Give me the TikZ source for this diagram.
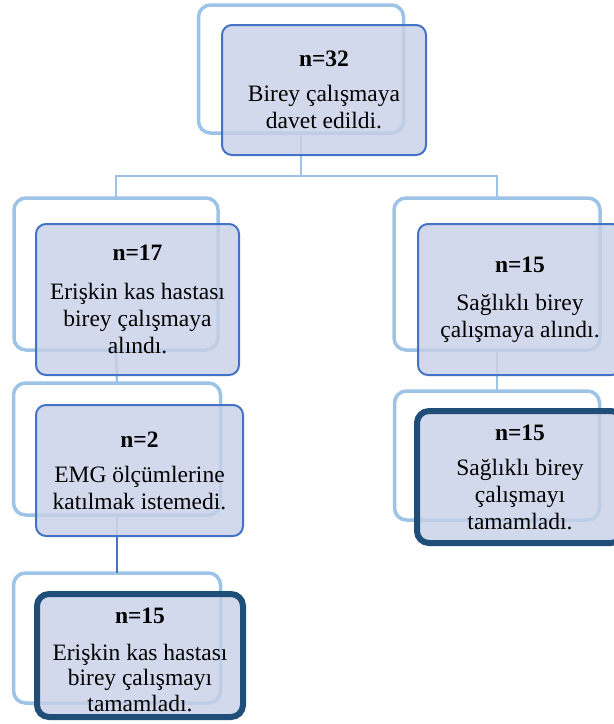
\documentclass[tikz,border=0pt]{standalone}
\usepackage{fontspec}
\setmainfont{Liberation Serif}
\definecolor{backc}{HTML}{9DC3E6}
\definecolor{frontd}{HTML}{4472C4}
\definecolor{frontf}{RGB}{200,208,231}
\definecolor{darkb}{HTML}{1F4E79}
\tikzset{
  backframe/.style={draw=backc, line width=3.5pt, rounded corners=12pt, inner sep=0pt, outer sep=0pt},
  frontbox/.style={draw=frontd, line width=2pt, rounded corners=10pt, fill=frontf, fill opacity=0.8, text opacity=1,
     inner sep=0pt, outer sep=0pt, align=center, font=\fontsize{23.5}{27}\selectfont},
  finalbox/.style={frontbox, draw=darkb, line width=6pt, rounded corners=12pt},
  boxtext/.style={inner sep=0pt, align=center, font=\fontsize{23.5}{24.5}\selectfont},
  conn/.style={draw=backc, line width=2.5pt},
  connd/.style={draw=frontd, line width=2pt}
}
\newcommand{\hd}[1]{\textbf{#1}\\[8pt]}
\begin{document}
\begin{tikzpicture}[x=1pt,y=-1pt]
\useasboundingbox (0,0) rectangle (614,724);
% back frames
\node[backframe, minimum width=205pt, minimum height=128pt] (t0b) at (301,69) {};
\node[backframe, minimum width=204pt, minimum height=152pt] (l1b) at (116,274) {};
\node[backframe, minimum width=206pt, minimum height=152pt] (r1b) at (497,274) {};
\node[backframe, minimum width=207pt, minimum height=132pt] (l2b) at (117,449) {};
\node[backframe, minimum width=207pt, minimum height=130pt] (l3b) at (117,638) {};
\node[backframe, minimum width=205pt, minimum height=129pt] (r2b) at (497,455.5) {};
% connectors
\coordinate (j) at (301,176);
\draw[conn] (t0b.south) -- (j);
\draw[conn] (l1b.north) |- (j) -| (r1b.north);
\draw[conn] (l1b.south) -- (l2b.north);
\draw[conn] (l2b.south) -- (l3b.north);
\draw[conn] (r1b.south) -- (r2b.north);
% front boxes
\node[frontbox, minimum width=204pt, minimum height=130pt] (t0) at (324,90)
  {\hd{n=32}Birey çalışmaya\\davet edildi.};
\node[frontbox, minimum width=203pt, minimum height=151pt] (l1) at (137.5,299.5)
  {\textbf{n=17}\\[12pt]Erişkin kas hastası\\birey çalışmaya\\alındı.};
\node[frontbox, minimum width=204pt, minimum height=151pt] (r1) at (520,299.5)
  {\textbf{n=15}\\[11pt]Sağlıklı birey\\çalışmaya alındı.};
\node[frontbox, minimum width=207pt, minimum height=131pt] (l2) at (139.5,470.5)
  {\hd{n=2}EMG ölçümlerine\\katılmak istemedi.};
\node[finalbox, minimum width=206pt, minimum height=123pt] (l3) at (140,655.5) {};
\node[boxtext] (l3t) at (140,660)
  {\textbf{n=15}\\[12.5pt]Erişkin kas hastası\\birey çalışmayı\\[1.5pt]tamamladı.};
\node[finalbox, minimum width=206pt, minimum height=132pt] (r2) at (520,477)
  {\hd{n=15}Sağlıklı birey\\çalışmayı\\tamamladı.};
\draw[connd] (l3b.north |- l2.south) -- (l3b.north);
\end{tikzpicture}
\end{document}
